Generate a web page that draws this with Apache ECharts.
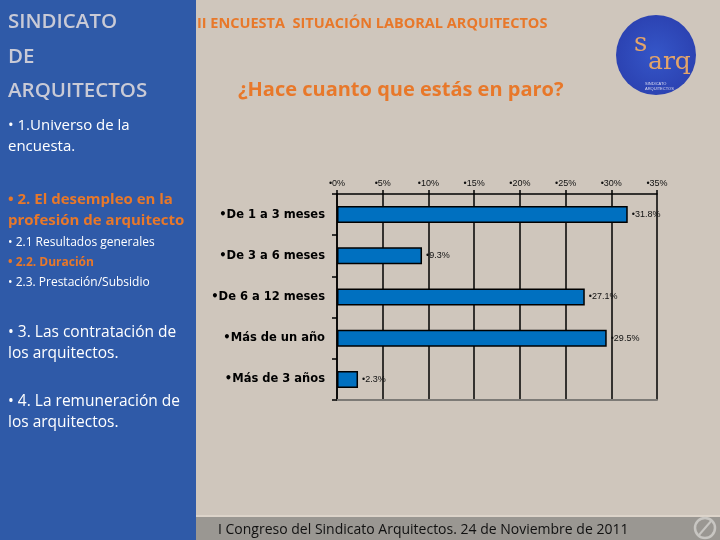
<!DOCTYPE html>
<html>
<head>
<meta charset="utf-8">
<script src="https://cdn.jsdelivr.net/npm/echarts@6/dist/echarts.min.js"></script>
<style>
html,body{margin:0;padding:0;background:#cfc6bc;}
#c{width:720px;height:540px;}
</style>
</head>
<body>
<div id="c"></div>
<script>
var categories = ['•De 1 a 3 meses', '•De 3 a 6 meses', '•De 6 a 12 meses', '•Más de un año', '•Más de 3 años'];
var values = [31.8, 9.3, 27.1, 29.5, 2.3];
var tickLabels = ['•0%', '•5%', '•10%', '•15%', '•20%', '•25%', '•30%', '•35%'];

var ORANGE = '#e8782a';
var BLUE = '#2f5aa8';
var SANS = '"Open Sans", Lato, sans-serif';

function t(x, y, s, font, color) {
  return {type: 'text', x: x, y: y, silent: true,
    style: {text: s, fill: color, font: font + ' ' + SANS, textVerticalAlign: 'middle'}};
}

var graphics = [
  {type: 'rect', shape: {x: 0, y: 0, width: 196, height: 540}, style: {fill: BLUE}, silent: true, z: -10},
  {type: 'rect', shape: {x: 196, y: 517, width: 524, height: 23}, style: {fill: '#9a9792'}, silent: true, z: -10},
  {type: 'rect', shape: {x: 196, y: 515, width: 524, height: 2}, style: {fill: '#ddd4ca'}, silent: true, z: -10},
  t(8, 22, 'SINDICATO', '600 20.5px', '#c9cad6'),
  t(8, 57, 'DE', '600 20.5px', '#c9cad6'),
  t(8, 91, 'ARQUITECTOS', '600 20.5px', '#c9cad6'),
  t(8, 126, '• 1.Universo de la', '15px', '#ffffff'),
  t(8, 147, 'encuesta.', '15px', '#ffffff'),
  t(8, 200, '• 2. El desempleo en la', 'bold 15px', ORANGE),
  t(8, 221, 'profesión de arquitecto', 'bold 15px', ORANGE),
  t(8, 243, '• 2.1 Resultados generales', '12px', '#ffffff'),
  t(8, 263, '• 2.2. Duración', 'bold 12px', ORANGE),
  t(8, 283, '• 2.3. Prestación/Subsidio', '12px', '#ffffff'),
  t(8, 333, '• 3. Las contratación de', '15.5px', '#ffffff'),
  t(8, 354, 'los arquitectos.', '15.5px', '#ffffff'),
  t(8, 402, '• 4. La remuneración de', '15.5px', '#ffffff'),
  t(8, 423, 'los arquitectos.', '15.5px', '#ffffff'),
  t(197, 24, 'II ENCUESTA  SITUACIÓN LABORAL ARQUITECTOS', 'bold 14.5px', ORANGE),
  t(238, 90, '¿Hace cuanto que estás en paro?', 'bold 20px', ORANGE),
  t(218, 530, 'I Congreso del Sindicato Arquitectos. 24 de Noviembre de 2011', '14px', '#111111'),
  // logo
  {type: 'circle', shape: {cx: 656, cy: 55, r: 40}, silent: true,
    style: {fill: {type: 'radial', x: 0.5, y: 0.5, r: 0.6, colorStops: [{offset: 0, color: '#3556c8'}, {offset: 1, color: '#2a3fae'}]}}},
  {type: 'text', x: 634, y: 44, silent: true, style: {text: 's', fill: '#e3a46a', font: '26px "DejaVu Serif", serif', textVerticalAlign: 'middle'}},
  {type: 'text', x: 648, y: 62, silent: true, style: {text: 'arq', fill: '#e3a46a', font: '25px "DejaVu Serif", serif', textVerticalAlign: 'middle'}},
  {type: 'text', x: 645, y: 86, silent: true, style: {text: 'SINDICATO\nARQUITECTOS', fill: '#dcdcf0', font: '4px sans-serif', textVerticalAlign: 'middle', lineHeight: 5}},
  // footer icon
  {type: 'circle', shape: {cx: 705, cy: 528, r: 10}, silent: true, style: {fill: 'none', stroke: '#c8c6c2', lineWidth: 2.5}},
  {type: 'line', shape: {x1: 699, y1: 535, x2: 712, y2: 520}, silent: true, style: {stroke: '#c8c6c2', lineWidth: 2}}
];

var chart = echarts.init(document.getElementById('c'), null, {renderer: 'canvas'});
chart.setOption({
  backgroundColor: '#cfc6bc',
  animation: false,
  graphic: graphics,
  grid: {left: 337, top: 194, width: 320, height: 206, containLabel: false},
  xAxis: [{
    type: 'value', position: 'top', min: 0, max: 35, interval: 5,
    axisLine: {show: true, lineStyle: {color: '#000', width: 1.5}},
    axisTick: {show: true, inside: false, length: 4, lineStyle: {color: '#000', width: 1.5}},
    splitLine: {show: true, lineStyle: {color: '#000', width: 1.5}},
    axisLabel: {margin: 6, fontSize: 9, color: '#111', fontFamily: 'Liberation Sans, Arial',
      formatter: function (v) { return tickLabels[Math.round(v / 5)]; }}
  }, {
    type: 'value', position: 'bottom', min: 0, max: 35, interval: 5,
    axisLine: {show: true, lineStyle: {color: '#7d7a76', width: 2}},
    axisTick: {show: false}, splitLine: {show: false}, axisLabel: {show: false}
  }],
  yAxis: {
    type: 'category', data: categories, inverse: true,
    axisLine: {show: true, lineStyle: {color: '#000', width: 1.5}},
    axisTick: {show: true, inside: false, length: 5, lineStyle: {color: '#000', width: 1.5}},
    axisLabel: {margin: 12, fontSize: 11.5, fontWeight: 'bold', color: '#000', fontFamily: '"DejaVu Sans", sans-serif'},
    splitLine: {show: false}
  },
  series: [{
    type: 'bar', data: values, barWidth: 17, xAxisIndex: 0,
    itemStyle: {color: '#0070c0', borderColor: '#000', borderWidth: 1.5},
    label: {show: true, position: 'right', distance: 4, fontSize: 9, color: '#111', fontFamily: 'Liberation Sans, Arial',
      formatter: function (p) { return '•' + p.value.toFixed(1) + '%'; }}
  }]
});
</script>
</body>
</html>
